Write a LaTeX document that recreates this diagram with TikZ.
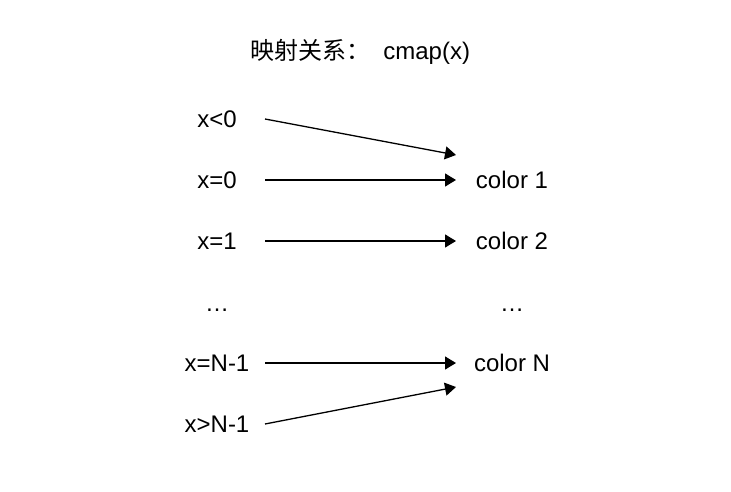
\documentclass[tikz,border=0pt]{standalone}
\usepackage{fontspec}
\setmainfont{Liberation Sans}
\newfontfamily\cjk{Noto Sans CJK SC}
\usetikzlibrary{positioning}
\usetikzlibrary{arrows.meta}
\tikzset{
  cmap chart/.style={
    x=0.5pt, y=-0.5pt,
    every node/.style={font=\fontsize{12}{14}\selectfont, inner sep=0pt, outer sep=0pt},
    value label/.style={minimum width=48pt, text height=8.6pt, text depth=0pt},
    color label/.style={minimum width=56pt, text height=8.6pt, text depth=0pt},
    map arrow/.style={-{Triangle[length=5.5pt,width=6.5pt]}, line width=0.65pt},
  }
}

\begin{document}
\begin{tikzpicture}[cmap chart]
    \useasboundingbox (0,0) rectangle (731,491);

    \node (title) at (360,52) {{\cjk 映射关系：}\ \ cmap(x)};

    \foreach \n/\v/\y in {a/x<0/119, b/x=0/180, c/x=1/241, d/…/303, e/x=N-1/363, f/x>N-1/424}
        \node[value label] (v\n) at (217,\y) {\v};

    \foreach \n/\c/\y in {b/color 1/180, c/color 2/241, d/…/303, e/color N/363}
        \node[color label] (c\n) at (512,\y) {\c};

    \foreach \n in {b,c,e}
        \draw[map arrow] (v\n) -- (c\n);

    % below zero and above N-1
    \coordinate (over) at (456,155);
    \coordinate (under) at (456,387);
    \draw[map arrow] (va.east) -- (over);
    \draw[map arrow] (vf.east) -- (under);
\end{tikzpicture}
\end{document}
